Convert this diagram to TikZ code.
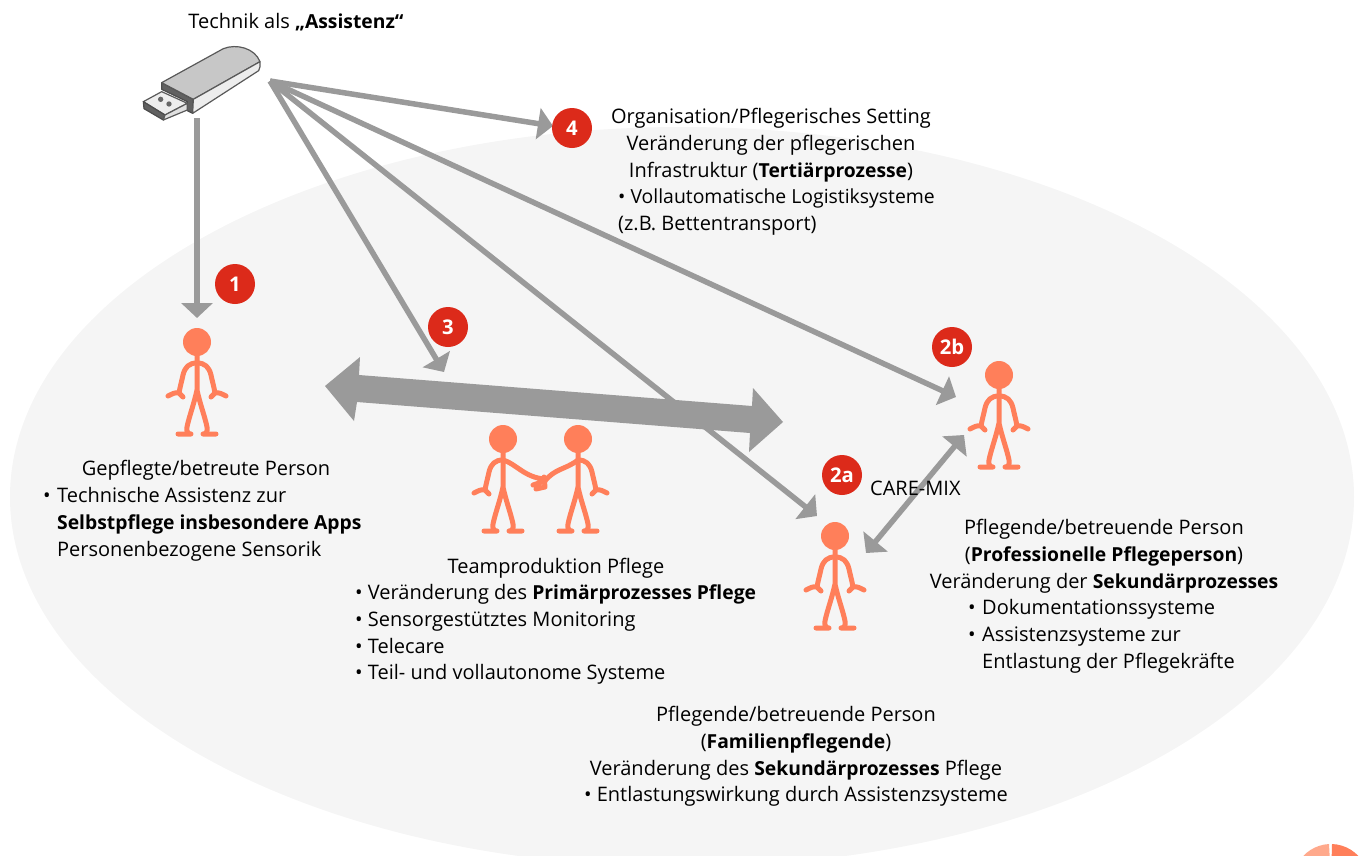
\documentclass[tikz,border=0pt]{standalone}
\usepackage{fontspec}
\setmainfont{Open Sans}[BoldFeatures={Scale=0.965}]
\usetikzlibrary{arrows.meta}
\definecolor{pgrey}{HTML}{9A9A9A}
\definecolor{pbg}{HTML}{F5F5F5}
\definecolor{pred}{HTML}{DC2A1A}
\definecolor{porange}{HTML}{FF7F5A}
\definecolor{plight}{HTML}{FFA98C}
\tikzset{
  txt/.style={inner sep=0pt,anchor=north,align=center,font=\fontsize{20}{26.6}\selectfont,text=black},
  txtl/.style={txt,anchor=north west,align=left},
  badge/.style={circle,fill=pred,text=white,minimum size=40pt,inner sep=0pt,font=\fontsize{21}{24}\selectfont\bfseries},
  ray/.style={draw=pgrey,line width=5.5pt,-{Triangle[width=31pt,length=15pt,fill=pgrey]}},
  limb/.style={draw=porange,line width=5pt,line cap=round,line join=round},
  person/.pic={
    \fill[porange] (0,0) circle (14);
    \draw[limb] (0,14) -- (0,48)
      (0,48) .. controls (-3,62) and (-8,75) .. (-10,85) .. controls (-10.5,89) and (-10,92) .. (-6,92) -- (-19,92)
      (0,48) .. controls (3,62) and (8,75) .. (10,85) .. controls (10.5,89) and (10,92) .. (6,92) -- (19,92);
  },
  armL/.pic={\draw[limb] (0,21) .. controls (-8,21) and (-12,25) .. (-14,33) .. controls (-15,38) and (-17,45) .. (-18,51) (-14,55) -- (-18,51) .. controls (-22,50) and (-25,52) .. (-29,54);},
  armR/.pic={\draw[limb] (0,21) .. controls (8,21) and (12,25) .. (14,33) .. controls (15,38) and (17,45) .. (18,51) (14,55) -- (18,51) .. controls (22,50) and (25,52) .. (29,54);},
}
\begin{document}
\begin{tikzpicture}[x=1pt,y=-1pt]
\useasboundingbox (0,0) rectangle (1366,855);
\clip (0,0) rectangle (1366,855);
\fill[pbg] (682,497) ellipse [x radius=672,y radius=370];
% pie
\fill[plight] (1331,882) -- (1329,844) arc[start angle=-93,end angle=-190,radius=38] -- cycle;
\fill[porange] (1331,882) -- (1332,844) arc[start angle=-88,end angle=10,radius=38] -- cycle;
% usb
\begin{scope}[shift={(130,0)},scale=0.3333,line join=round]
 \filldraw[fill=black!62,draw=black!70,line width=1.2pt] (95,248) -- (190,298) -- (188,340) -- (172,332) -- (172,305) -- (95,268) -- cycle;
 \filldraw[fill=black!22,draw=black!65,line width=1.2pt] (95,248) -- (280,146) .. controls (320,130) and (375,145) .. (390,185) -- (190,298) -- cycle;
 \filldraw[fill=black!7,draw=black!65,line width=1.2pt] (190,298) -- (390,185) .. controls (392,195) and (390,205) .. (386,212) -- (188,340) -- cycle;
 \filldraw[fill=black!7,draw=black!65,line width=1.2pt] (40,305) -- (95,275) -- (172,310) -- (105,345) -- cycle;
 \filldraw[fill=black!62,draw=black!70,line width=1.2pt] (40,305) -- (105,345) -- (100,360) -- (42,326) -- cycle;
 \filldraw[fill=black!12,draw=black!65,line width=1.2pt] (105,345) -- (172,310) -- (172,330) -- (100,360) -- cycle;
 \fill[black!60] (92,298) circle (8) (117,312) circle (8);
\end{scope}
% endpoints
\coordinate (src) at (270,81);
\coordinate (srcd) at (197,118);
\coordinate (t1) at (197,318);
\coordinate (t2a) at (817,516);
\coordinate (t2b) at (956,397);
\coordinate (t3) at (444,372);
\coordinate (t4) at (553,126);
\coordinate (m1) at (964,435);
\coordinate (m2) at (866,553);
\draw[draw=pgrey,line width=6pt,-{Triangle[width=31pt,length=15pt,fill=pgrey]}] (srcd) -- (t1);
\draw[ray] (src) -- (t2a);
\draw[ray] (src) -- (t2b);
\draw[ray] (src) -- (t3);
\draw[ray] (src) -- (t4);
\draw[pgrey,line width=5.5pt,{Triangle[width=31pt,length=15pt]}-{Triangle[width=31pt,length=15pt]}] (m1) -- (m2);
% big double arrow
\fill[pgrey] (325,386) -- (360,357) -- (359,375) -- (752,406) -- (753,388) -- (783,422) -- (749,452) -- (750,433) -- (357,402) -- (354,421) -- cycle;
% people
\pic at (197,342) {person}; \pic at (197,342) {armL}; \pic at (197,342) {armR};
\pic at (999,375) {person}; \pic at (999,375) {armL}; \pic at (999,375) {armR};
\pic at (835,536) {person}; \pic at (835,536) {armL}; \pic at (835,536) {armR};
\pic at (503,439) {person}; \pic at (503,439) {armL};
\pic at (578,439) {person}; \pic at (578,439) {armR};
\draw[limb] (503,460) .. controls (515,463) and (525,478) .. (545,479) (533,485) -- (545,481) (536,489) -- (545,487) -- (544,477);
\draw[limb] (578,460) .. controls (565,470) and (555,468) .. (544,482);
% badges
\node[badge] (b1) at (235,284) {1};
\node[badge] (b3) at (448,327) {3};
\node[badge] (b4) at (572,128) {4};
\node[badge] (b2b) at (952,347) {2b};
\node[badge] (b2a) at (842,475) {2a};
% texts
\node[txt] (tech) at (296,10) {\strut Technik als \textbf{„Assistenz“}};
\node[txt] (org) at (771,105) {\strut Organisation/Pflegerisches Setting\\Veränderung der pflegerischen\\Infrastruktur (\textbf{Tertiärprozesse})};
\node[txtl] (orgb) at (618,185) {\strut {\fontsize{19.4}{26.6}\selectfont • Vollautomatische Logistiksysteme}\\ (z.B. Bettentransport)};
\node[txt] (p1) at (206,457) {\strut Gepflegte/betreute Person};
\node[txtl] (p1d) at (43,484) {\strut •};
\node[txtl] (p1t) at (57,484) {\strut Technische Assistenz zur\\\textbf{Selbstpflege insbesondere Apps}\\Personenbezogene Sensorik};
\node[txt] (team) at (556,555) {\strut Teamproduktion Pflege};
\node[txtl] (teamb) at (355,581) {\strut • Veränderung des \textbf{Primärprozesses Pflege}\\• Sensorgestütztes Monitoring\\• Telecare\\• Teil- und vollautonome Systeme};
\node[txtl] (mix) at (870,477) {\strut CARE-MIX};
\node[txt] (prof) at (1104,516) {\strut Pflegende/betreuende Person\\(\textbf{Professionelle Pflegeperson})\\Veränderung der \textbf{Sekundärprozesses}};
\node[txtl] (profd) at (968,596) {\strut •\\•};
\node[txtl] (proft) at (982,596) {\strut Dokumentationssysteme\\Assistenzsysteme zur\\Entlastung der Pflegekräfte};
\node[txt] (fam) at (796,703) {\strut Pflegende/betreuende Person\\(\textbf{Familienpflegende})\\Veränderung des \textbf{Sekundärprozesses} Pflege\\• Entlastungswirkung durch Assistenzsysteme};
\end{tikzpicture}
\end{document}
